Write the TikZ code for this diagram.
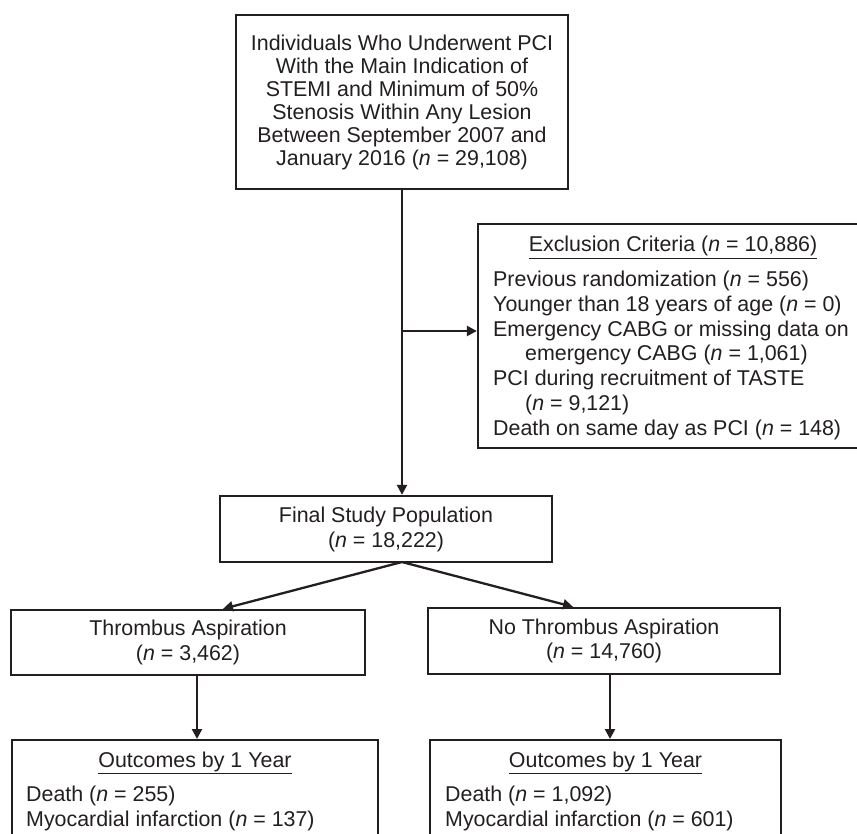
\documentclass[tikz,border=0pt]{standalone}
\usepackage{fontspec}
\setmainfont{Liberation Sans}
\usetikzlibrary{arrows.meta}
\definecolor{ink}{HTML}{231F20}
\begin{document}
\begin{tikzpicture}[x=1pt,y=-1pt,
  every node/.style={text=ink, font=\fontsize{21.4}{24.7}\selectfont},
  box/.style={draw=ink, line width=2.3pt, inner sep=0pt, align=center},
  txt/.style={inner sep=0pt},
  conn/.style={draw=ink, line width=2.3pt, -{Triangle[length=10pt,width=10pt]}}]
\clip (0,0) rectangle (857,834);
\fill[white] (0,0) rectangle (857,834);

% top box
\node[box, minimum width=332pt, minimum height=174pt, font=\fontsize{21.4}{23}\selectfont] (top) at (402,102)
  {Individuals Who Underwent PCI\\With the Main Indication of\\STEMI and Minimum of 50\%\\Stenosis Within Any Lesion\\Between September 2007 and\\January 2016 (\textit{n} = 29,108)};

% exclusion box
\node[box, minimum width=398pt, minimum height=224pt] (excl) at (677,336) {};
\node[txt, anchor=base] (exT) at (673,252) {\underline{Exclusion Criteria (\textit{n} = 10,886)}};
\node[txt, anchor=base west, align=left] (exL) at (493,435)
  {Previous randomization (\textit{n} = 556)\\
   Younger than 18 years of age (\textit{n} = 0)\\
   Emergency CABG or missing data on\\
   \hspace*{32pt}emergency CABG (\textit{n} = 1,061)\\
   PCI during recruitment of TASTE\\
   \hspace*{32pt}(\textit{n} = 9,121)\\
   Death on same day as PCI (\textit{n} = 148)};

% final box
\node[box, minimum width=332pt, minimum height=66pt, font=\fontsize{21.4}{25}\selectfont] (fin) at (386,529)
  {Final Study Population\\(\textit{n} = 18,222)};

% arms
\node[box, minimum width=354pt, minimum height=65pt] (thr) at (188,642.5)
  {Thrombus Aspiration\\(\textit{n} = 3,462)};
\node[box, minimum width=352pt, minimum height=66pt] (nothr) at (604,641)
  {No Thrombus Aspiration\\(\textit{n} = 14,760)};

% outcome boxes (cut off at bottom)
\node[box, minimum width=366pt, minimum height=140pt, anchor=north] (out1) at (195,739) {};
\node[box, minimum width=351pt, minimum height=140pt, anchor=north] (out2) at (605.5,739) {};
\node[txt, anchor=base] (o1T) at (195,767) {\underline{Outcomes by 1 Year}};
\node[txt, anchor=base west, align=left] (o1L) at (26,826)
  {Death (\textit{n} = 255)\\Myocardial infarction (\textit{n} = 137)};
\node[txt, anchor=base] (o2T) at (605.5,767) {\underline{Outcomes by 1 Year}};
\node[txt, anchor=base west, align=left] (o2L) at (445,826)
  {Death (\textit{n} = 1,092)\\Myocardial infarction (\textit{n} = 601)};

% connectors
\coordinate (br) at (402,331);
\coordinate (fs) at (402,562);
\draw[conn] (top.south) -- (top.south |- fin.north);
\draw[conn] (br) -- (br -| excl.west);
\draw[conn] (fs) -- ([xshift=35pt]thr.north);
\draw[conn] (fs) -- ([xshift=-31pt]nothr.north);
\draw[conn] ([xshift=9pt]thr.south) -- ([xshift=9pt]thr.south |- out1.north);
\draw[conn] ([xshift=6pt]nothr.south) -- ([xshift=6pt]nothr.south |- out2.north);
\end{tikzpicture}
\end{document}
